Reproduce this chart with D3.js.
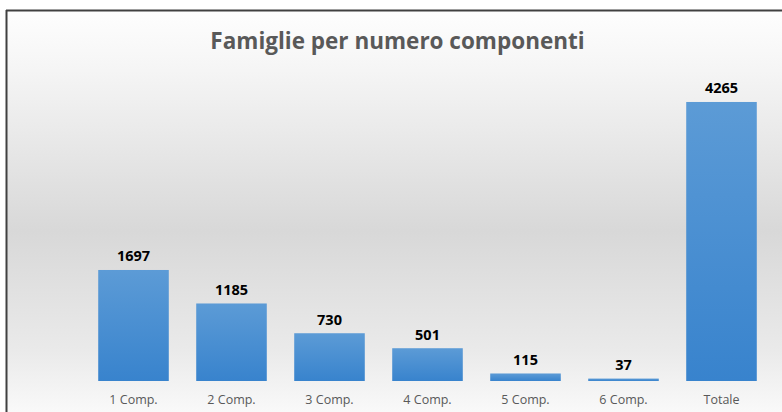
<!DOCTYPE html>
<html><head><meta charset="utf-8">
<script src="https://cdn.jsdelivr.net/npm/d3@7"></script>
<style>html,body{margin:0;padding:0;background:#fff;}svg{display:block;}</style>
</head><body>
<script>
const title = "Famiglie per numero componenti";
const categories = ["1 Comp.", "2 Comp.", "3 Comp.", "4 Comp.", "5 Comp.", "6 Comp.", "Totale"];
const values = [1697, 1185, 730, 501, 115, 37, 4265];

const W = 782, H = 412;
const svg = d3.select("body").append("svg").attr("width", W).attr("height", H);
const defs = svg.append("defs");

const bg = defs.append("linearGradient").attr("id", "bg")
  .attr("gradientUnits", "userSpaceOnUse").attr("x1", 0).attr("y1", 10).attr("x2", 0).attr("y2", 412);
[[0, "#fefefe"], [0.15, "#f5f5f5"], [0.55, "#d8d8d8"], [0.85, "#eaeaea"], [1, "#f9f9f9"]]
  .forEach(([o, c]) => bg.append("stop").attr("offset", o).attr("stop-color", c));

const bar = defs.append("linearGradient").attr("id", "bar")
  .attr("x1", 0).attr("y1", 0).attr("x2", 0).attr("y2", 1);
[[0, "#5c9bd6"], [1, "#3883cd"]].forEach(([o, c]) => bar.append("stop").attr("offset", o).attr("stop-color", c));

svg.append("rect").attr("x", 7).attr("y", 11).attr("width", W - 7).attr("height", H - 11).attr("fill", "url(#bg)");
svg.append("line").attr("x1", 6).attr("x2", W).attr("y1", 10.5).attr("y2", 10.5).attr("stroke", "#404040").attr("stroke-width", 2);
svg.append("line").attr("x1", 6.5).attr("x2", 6.5).attr("y1", 10).attr("y2", H).attr("stroke", "#404040").attr("stroke-width", 2);

const x = d3.scaleBand().domain(categories).range([84.5, 770.5]).paddingInner(0.28).paddingOuter(0.14);
const y = d3.scaleLinear().domain([0, 4500]).range([381, 86.6]);

svg.append("text").attr("x", 397.5).attr("y", 49).attr("text-anchor", "middle")
  .attr("font-family", "Open Sans").attr("font-weight", "bold").attr("font-size", 22.5)
  .attr("fill", "#595959").text(title);

const g = svg.append("g");
g.selectAll("rect").data(values).join("rect")
  .attr("x", (d, i) => x(categories[i])).attr("width", x.bandwidth())
  .attr("y", d => y(d)).attr("height", d => y(0) - y(d)).attr("fill", "url(#bar)");

g.selectAll("text.v").data(values).join("text").attr("class", "v")
  .attr("x", (d, i) => x(categories[i]) + x.bandwidth() / 2).attr("y", d => y(d) - 8.5)
  .attr("text-anchor", "middle").attr("font-family", "Open Sans").attr("font-weight", "bold")
  .attr("font-size", 14.5).attr("fill", "#000").text(d => d);

const xAxis = d3.axisBottom(x).tickSize(0).tickPadding(0);
const ax = svg.append("g").attr("transform", "translate(0,381)").call(xAxis);
ax.select(".domain").remove();
ax.selectAll("text").attr("dy", null).attr("y", 23).attr("font-family", "Open Sans")
  .attr("font-size", 12.5).attr("fill", "#595959");
</script>
</body></html>
